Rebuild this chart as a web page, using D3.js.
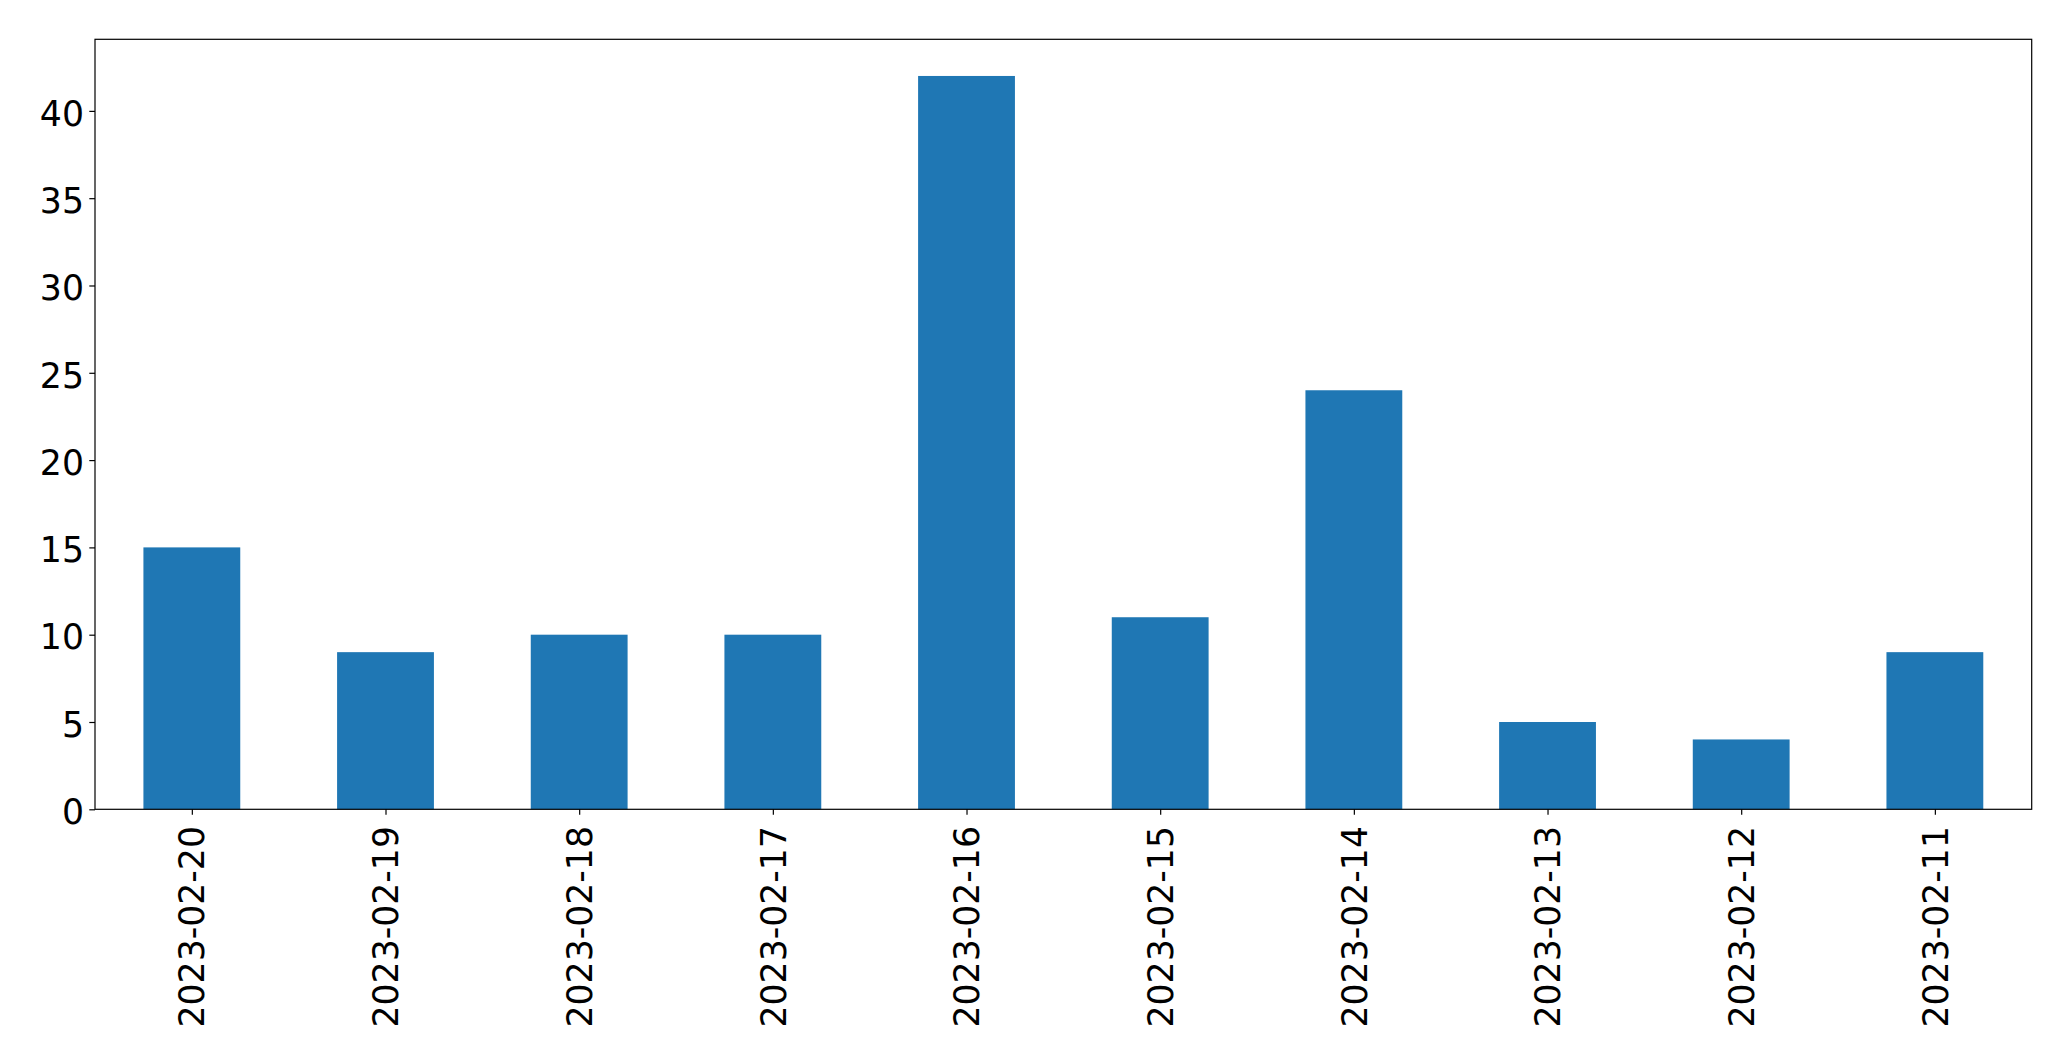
<!DOCTYPE html>
<html>
<head>
<meta charset="utf-8">
<script src="https://cdn.jsdelivr.net/npm/d3@7"></script>
<style>
  html, body { margin: 0; padding: 0; background: #fff; }
  svg { display: block; }
</style>
</head>
<body>
<script>
const categories = ["2023-02-20","2023-02-19","2023-02-18","2023-02-17","2023-02-16","2023-02-15","2023-02-14","2023-02-13","2023-02-12","2023-02-11"];
const values = [15, 9, 10, 10, 42, 11, 24, 5, 4, 9];
const yTicks = [0, 5, 10, 15, 20, 25, 30, 35, 40];

(function () {
const W = 2071, H = 1061;
const mLeft = 95, mRight = 2031.7, mTop = 39.3, mBottom = 809.3;
const fontSize = 34.7;

const svg = d3.select("body").append("svg").attr("width", W).attr("height", H);

const x = d3.scaleLinear().domain([-0.5, categories.length - 0.5]).range([mLeft, mRight]);
const y = d3.scaleLinear().domain([0, d3.max(values) * 1.05]).range([mBottom, mTop]);
const barW = 0.5;

svg.append("g").selectAll("rect").data(values).join("rect")
  .attr("x", (d, i) => x(i - barW / 2))
  .attr("width", (d, i) => x(i + barW / 2) - x(i - barW / 2))
  .attr("y", d => y(d))
  .attr("height", d => y(0) - y(d))
  .attr("fill", "#1f77b4");

// y axis
const yAxis = d3.axisLeft(y).tickValues(yTicks).tickSize(5.7).tickPadding(5.3).tickFormat(d3.format("d"));
const gy = svg.append("g").attr("transform", `translate(${mLeft},0)`).call(yAxis);
gy.select(".domain").remove();
gy.selectAll("text").attr("font-family", "DejaVu Sans").attr("font-size", fontSize).attr("fill", "#000").attr("dy", "0.41em");
gy.selectAll("line").attr("stroke", "#000").attr("stroke-width", 1.2);

// x axis
const xAxis = d3.axisBottom(x).tickValues(d3.range(categories.length)).tickSize(5.5).tickPadding(5).tickFormat(i => categories[i]);
const gx = svg.append("g").attr("transform", `translate(0,${mBottom})`).call(xAxis);
gx.select(".domain").remove();
gx.selectAll("line").attr("stroke", "#000").attr("stroke-width", 1.2);
gx.selectAll("text")
  .attr("font-family", "DejaVu Sans").attr("font-size", fontSize).attr("fill", "#000")
  .attr("transform", "rotate(-90)")
  .attr("text-anchor", "end")
  .attr("x", -16.7)
  .attr("y", 0)
  .attr("dy", "0.35em");

// frame
svg.append("rect")
  .attr("x", mLeft).attr("y", mTop)
  .attr("width", mRight - mLeft).attr("height", mBottom - mTop)
  .attr("fill", "none").attr("stroke", "#000").attr("stroke-width", 1.2);
})();
</script>
</body>
</html>
